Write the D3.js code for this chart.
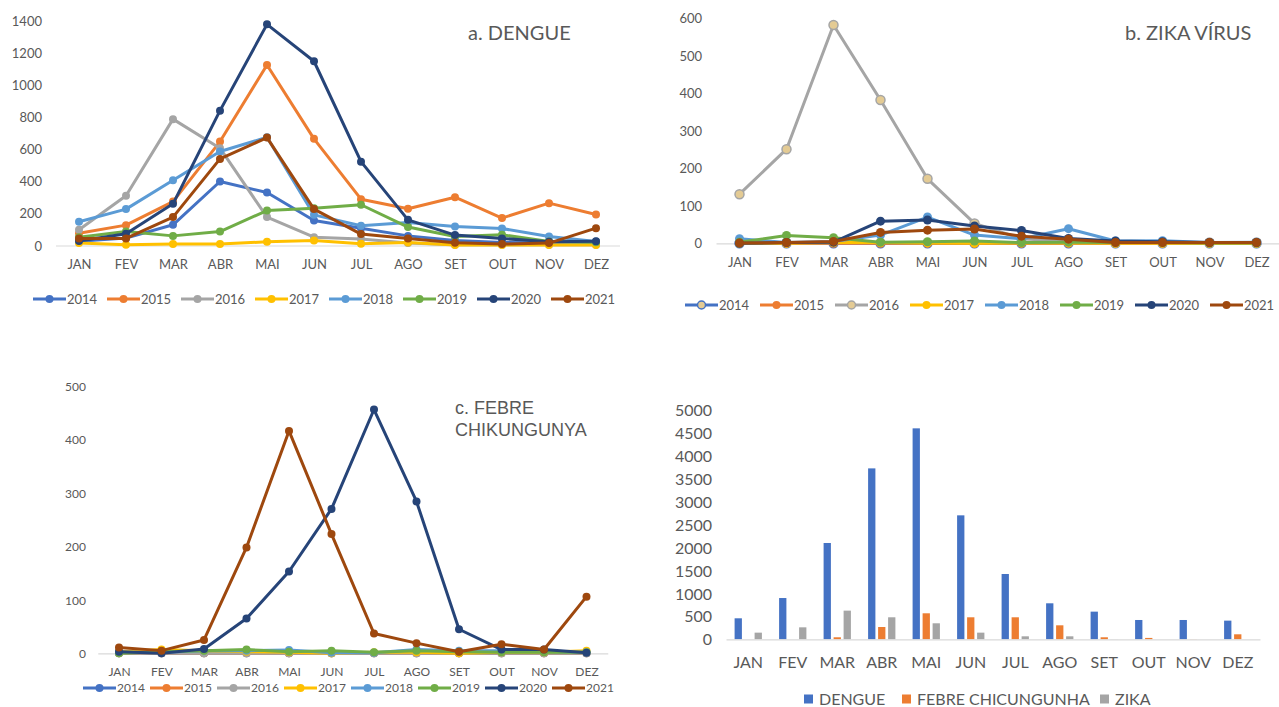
<!DOCTYPE html>
<html>
<head>
<meta charset="utf-8">
<script src="https://cdn.jsdelivr.net/npm/d3@7.9.0/dist/d3.min.js"></script>
<style>
  body { margin: 0; background: #fff; }
  svg text { font-family: Lato, "Open Sans", sans-serif; fill: #595959; }
</style>
</head>
<body>
<svg id="chart" width="1279" height="707"></svg>
<script>
// categories and series
const months = ['JAN', 'FEV', 'MAR', 'ABR', 'MAI', 'JUN', 'JUL', 'AGO', 'SET', 'OUT', 'NOV', 'DEZ'];
const years = ['2014', '2015', '2016', '2017', '2018', '2019', '2020', '2021'];
const yearColors = ['#4472C4', '#ED7D31', '#A5A5A5', '#FFC000', '#5B9BD5', '#70AD47', '#264478', '#9E480E'];

// a. dengue, one row per year
const dengue = [
  [27, 46, 129, 399, 330, 156, 108, 60, 31, 19, 15, 15],
  [77, 127, 274, 648, 1126, 665, 289, 229, 301, 171, 264, 193],
  [98, 310, 788, 607, 177, 52, 40, 15, 5, 5, 5, 5],
  [15, 4, 9, 9, 23, 31, 11, 19, 3, 3, 3, 3],
  [148, 227, 407, 586, 675, 191, 123, 143, 118, 106, 56, 25],
  [52, 87, 60, 87, 218, 233, 254, 115, 56, 67, 25, 20],
  [28, 73, 260, 841, 1379, 1149, 523, 160, 65, 44, 23, 27],
  [44, 44, 177, 540, 673, 227, 71, 44, 17, 9, 15, 108]
];

// b. zika
const zika = [
  [0, 0, 0, 0, 0, 0, 0, 0, 0, 0, 0, 0],
  [0, 0, 0, 0, 0, 0, 0, 0, 0, 0, 0, 0],
  [131, 251, 582, 382, 172, 53, 12, 5, 2, 2, 2, 2],
  [0, 0, 2, 2, 1, 0, 1, 1, 0, 0, 0, 0],
  [12, 2, 5, 22, 70, 22, 12, 39, 6, 7, 2, 3],
  [3, 21, 15, 3, 4, 6, 2, 3, 2, 2, 1, 1],
  [0, 2, 3, 59, 62, 46, 34, 13, 6, 4, 2, 2],
  [1, 2, 5, 29, 35, 38, 19, 11, 2, 2, 2, 2]
];

// c. febre chikungunya
const chik = [
  [0, 0, 0, 0, 0, 0, 0, 0, 0, 0, 0, 0],
  [0, 0, 0, 0, 0, 0, 0, 0, 0, 0, 0, 0],
  [0, 0, 0, 0, 0, 0, 0, 0, 0, 0, 0, 0],
  [3, 7, 5, 3, 2, 0, 2, 2, 0, 2, 2, 5],
  [2, 2, 5, 5, 6, 1, 1, 7, 5, 5, 3, 2],
  [0, 3, 5, 7, 3, 5, 2, 5, 3, 2, 2, 2],
  [3, 0, 8, 65, 153, 270, 456, 284, 45, 7, 7, 1],
  [11, 5, 25, 198, 416, 223, 37, 19, 3, 17, 7, 106]
];

// d. totals per month
const diseases = ['DENGUE', 'FEBRE CHICUNGUNHA', 'ZIKA'];
const diseaseColors = ['#4472C4', '#ED7D31', '#A5A5A5'];
const totalDengue = [458, 900, 2100, 3727, 4600, 2703, 1424, 785, 603, 421, 421, 407];
const totalChik = [0, 0, 44, 268, 567, 480, 480, 305, 44, 30, 3, 109];
const totalZika = [145, 261, 625, 480, 349, 145, 65, 65, 2, 0, 0, 0];

const svg = d3.select('#chart');
const fmt = d3.format('d');

function drawLinePanel(o) {
  const g = svg.append('g');
  const x = d3.scalePoint().domain(months).range([o.x0, o.x1]).padding(0.5);
  const y = d3.scaleLinear().domain([0, o.max]).range([o.yBase, o.yTop]);

  // y labels
  const ya = g.append('g')
    .attr('transform', `translate(${o.labelRight},0)`)
    .call(d3.axisLeft(y).tickValues(d3.range(0, o.max + 1, o.step)).tickFormat(fmt).tickSize(0).tickPadding(0));
  ya.select('.domain').remove();
  ya.selectAll('text').style('font-size', o.font + 'px').style('font-family', null).attr('dy', '0.35em');

  // baseline + month labels
  const xa = g.append('g')
    .attr('transform', `translate(0,${o.yBase})`)
    .call(d3.axisBottom(x).tickSize(0).tickSizeOuter(0));
  xa.select('.domain').attr('stroke', '#D9D9D9').attr('stroke-width', 1.2);
  xa.selectAll('text').style('font-size', o.font + 'px').style('font-family', null)
    .attr('y', o.labelOff).attr('dy', '0.35em');

  const line = d3.line().x((d, i) => x(months[i])).y(d => y(d));

  o.data.forEach((vals, s) => {
    const sg = g.append('g');
    sg.append('path')
      .attr('d', line(vals))
      .attr('fill', 'none')
      .attr('stroke', yearColors[s])
      .attr('stroke-width', o.lw)
      .attr('stroke-linejoin', 'round');
    sg.selectAll('circle')
      .data(vals)
      .join('circle')
      .attr('cx', (d, i) => x(months[i]))
      .attr('cy', d => y(d))
      .attr('r', o.r)
      .attr('fill', o.markerFill && o.markerFill[s] ? o.markerFill[s] : yearColors[s])
      .attr('stroke', yearColors[s])
      .attr('stroke-width', o.markerFill && o.markerFill[s] ? 1.5 : 0);
  });

  // legend
  const lg = g.append('g');
  years.forEach((yr, i) => {
    const it = lg.append('g').attr('transform', `translate(${o.legX + i * o.legStep},${o.legY})`);
    it.append('line').attr('x1', 0).attr('x2', 33).attr('stroke', yearColors[i]).attr('stroke-width', 3);
    it.append('circle').attr('cx', 16.5).attr('r', 4)
      .attr('fill', o.markerFill && o.markerFill[i] ? o.markerFill[i] : yearColors[i])
      .attr('stroke', yearColors[i])
      .attr('stroke-width', o.markerFill && o.markerFill[i] ? 1.5 : 0);
    it.append('text').attr('x', 34).attr('dy', '0.35em').style('font-size', o.font + 'px').text(yr);
  });

  // title
  const t = g.append('text')
    .attr('x', o.titleX).attr('y', o.titleY)
    .style('font-size', o.titleSize + 'px');
  if (o.titleFont) t.style('font-family', o.titleFont);
  o.title.forEach((ln, i) => t.append('tspan').attr('x', o.titleX).attr('dy', i === 0 ? '0.35em' : '1.2em').text(ln));
}

drawLinePanel({
  data: dengue, max: 1400, step: 200,
  x0: 55.5, x1: 619.5, yBase: 245.5, yTop: 21,
  labelRight: 42, labelOff: 19, font: 13, lw: 3, r: 4,
  legX: 33, legStep: 74, legY: 299,
  title: ['a. DENGUE'], titleX: 468, titleY: 33, titleSize: 20
});

drawLinePanel({
  data: zika, max: 600, step: 100,
  x0: 716, x1: 1280, yBase: 243.3, yTop: 18.3,
  labelRight: 702, labelOff: 19, font: 13, lw: 3, r: 4.5,
  markerFill: { 0: '#E4CB94', 2: '#E4CB94' },
  legX: 685, legStep: 75, legY: 305,
  title: ['b. ZIKA VÍRUS'], titleX: 1125, titleY: 33, titleSize: 20
});

drawLinePanel({
  data: chik, max: 500, step: 100,
  x0: 97.75, x1: 607.75, yBase: 653.3, yTop: 386,
  labelRight: 86, labelOff: 19, font: 12, lw: 3, r: 4,
  legX: 83, legStep: 67, legY: 688,
  title: ['c. FEBRE', 'CHIKUNGUNYA'], titleX: 455, titleY: 408, titleSize: 18,
  titleFont: '"Liberation Sans", Arial, sans-serif'
});

// d. grouped bars
(function () {
  const g = svg.append('g');
  const x = d3.scaleBand().domain(months).range([726, 1260]);
  const xs = d3.scaleBand().domain(diseases).range([0, 27.3]).paddingInner(0.27);
  const y = d3.scaleLinear().domain([0, 5000]).range([639.3, 410]);
  const totals = [totalDengue, totalChik, totalZika];
  const off = (x.bandwidth() - 27.3) / 2;

  const ya = g.append('g')
    .attr('transform', 'translate(712,0)')
    .call(d3.axisLeft(y).tickValues(d3.range(0, 5001, 500)).tickFormat(fmt).tickSize(0).tickPadding(0));
  ya.select('.domain').remove();
  ya.selectAll('text').style('font-size', '16px').style('font-family', null).attr('dy', '0.35em');

  diseases.forEach((dz, k) => {
    g.append('g').selectAll('rect')
      .data(totals[k])
      .join('rect')
      .attr('x', (d, i) => x(months[i]) + off + xs(dz))
      .attr('width', xs.bandwidth())
      .attr('y', d => y(d))
      .attr('height', d => y(0) - y(d))
      .attr('fill', diseaseColors[k]);
  });

  const xa = g.append('g')
    .attr('transform', 'translate(0,639.3)')
    .call(d3.axisBottom(x).tickSize(0).tickSizeOuter(0));
  xa.select('.domain').attr('stroke', '#D9D9D9').attr('stroke-width', 1.2);
  xa.selectAll('text').style('font-size', '16px').style('font-family', null)
    .attr('y', 23).attr('dy', '0.35em');

  const legX = [804, 902, 1100];
  diseases.forEach((dz, k) => {
    const it = g.append('g').attr('transform', `translate(${legX[k]},699)`);
    it.append('rect').attr('x', 0).attr('y', -4.5).attr('width', 9).attr('height', 9).attr('fill', diseaseColors[k]);
    it.append('text').attr('x', 15).attr('dy', '0.35em').style('font-size', '16px').text(dz);
  });
})();
</script>
</body>
</html>
